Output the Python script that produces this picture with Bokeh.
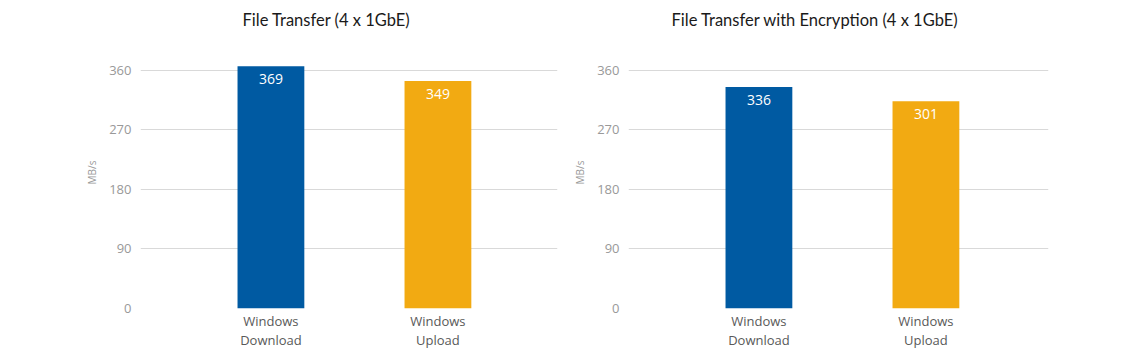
from bokeh.plotting import figure
from bokeh.layouts import row
from bokeh.models import ColumnDataSource, Range1d, FixedTicker, LabelSet
from bokeh.core.properties import value
from bokeh.embed import file_html
from bokeh.resources import INLINE

categories = ["Windows\nDownload", "Windows\nUpload"]
titles = ["File Transfer (4 x 1GbE)", "File Transfer with Encryption (4 x 1GbE)"]
# bar heights as drawn in the picture (MB/s)
plain_bars = [366.5, 344]
encrypted_bars = [335, 313.5]
# value labels printed on the bars
plain_labels = ["369", "349"]
encrypted_labels = ["336", "301"]
y_ticks = [0, 90, 180, 270, 360]
colors = ["#005AA2", "#F2AA12"]

BAR_W = 0.4


def make_chart(title, values, texts, width, border_left, border_right, x_end, title_offset):
    xs = list(range(len(categories)))
    src = ColumnDataSource(dict(x=xs, top=values, color=colors, label=texts))
    p = figure(width=width, height=352, output_backend="svg", toolbar_location=None,
               x_range=Range1d(-0.781, x_end), y_range=Range1d(0, 411.4),
               min_border_left=border_left, min_border_right=border_right,
               min_border_top=10, min_border_bottom=44, tools="")
    p.title.text = title
    p.title.align = "left"
    p.title.offset = title_offset
    p.title.text_font = "Lato"
    p.title.text_font_size = "16.5px"
    p.title.text_font_style = "normal"
    p.title.text_color = "#1a1a1a"
    p.title.vertical_align = "bottom"
    p.title.standoff = 14
    p.outline_line_color = None
    p.background_fill_color = "white"
    p.border_fill_color = "white"

    p.vbar(x="x", top="top", width=BAR_W, color="color", source=src, line_color=None)
    labels = LabelSet(x="x", y="top", text="label", source=src, text_align="center",
                      text_baseline="top", y_offset=-8, text_color="white",
                      text_font_size="14px", text_font=value("Open Sans"))
    p.add_layout(labels)

    p.xgrid.grid_line_color = None
    p.ygrid.grid_line_color = "#D9D9D9"
    p.ygrid.ticker = FixedTicker(ticks=y_ticks)

    p.yaxis.ticker = FixedTicker(ticks=y_ticks)
    p.yaxis.axis_line_color = None
    p.yaxis.major_tick_line_color = None
    p.yaxis.minor_tick_line_color = None
    p.yaxis.major_tick_out = 0
    p.yaxis.major_label_standoff = 9
    p.yaxis.major_label_text_color = "#999999"
    p.yaxis.major_label_text_font = "Open Sans"
    p.yaxis.major_label_text_font_size = "13px"
    p.yaxis.axis_label = "MB/s"
    p.yaxis.axis_label_text_font = "Open Sans"
    p.yaxis.axis_label_text_font_size = "10px"
    p.yaxis.axis_label_text_font_style = "normal"
    p.yaxis.axis_label_text_color = "#999999"
    p.yaxis.axis_label_standoff = 7

    p.xaxis.ticker = FixedTicker(ticks=xs)
    p.xaxis.major_label_overrides = {i: c for i, c in zip(xs, categories)}
    p.xaxis.axis_line_color = None
    p.xaxis.major_tick_line_color = None
    p.xaxis.minor_tick_line_color = None
    p.xaxis.major_tick_out = 0
    p.xaxis.major_tick_in = 0
    p.xaxis.major_label_standoff = 3
    p.xaxis.major_label_text_color = "#595959"
    p.xaxis.major_label_text_font = "Open Sans"
    p.xaxis.major_label_text_font_size = "13px"
    p.xaxis.major_label_text_line_height = 1.1
    return p


left = make_chart(titles[0], plain_bars, plain_labels, 570, 140, 13, 1.716, 102)
right = make_chart(titles[1], encrypted_bars, encrypted_labels, 570, 58, 92, 1.734, 43)

layout = row(left, right)
open("out.html", "w").write(file_html(layout, INLINE))
